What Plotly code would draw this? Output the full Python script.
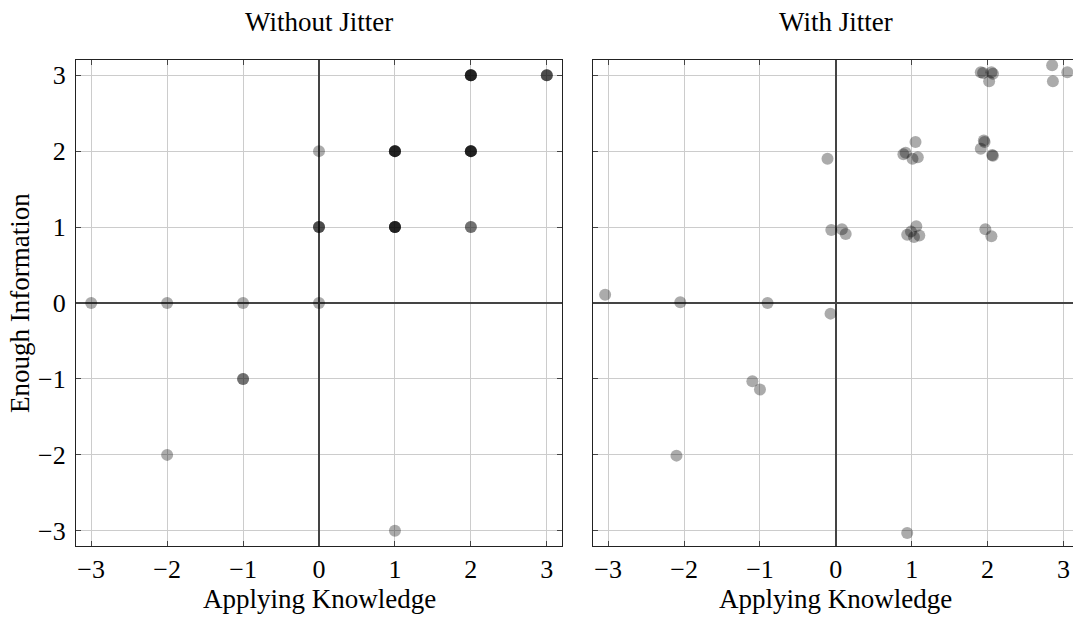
import plotly.graph_objects as go

# Without jitter (integer responses)
x_raw = [-3, -2, -1, 0, 0, -2, -1, -1, 1,
         0, 0, 0,
         1, 1, 1, 1, 1,
         1, 1, 1, 1, 1,
         2, 2, 2, 2, 2,
         2, 2, 2, 2, 2,
         3, 3, 3,
         2, 2]
y_raw = [0, 0, 0, 0, 2, -2, -1, -1, -3,
         1, 1, 1,
         1, 1, 1, 1, 1,
         2, 2, 2, 2, 2,
         2, 2, 2, 2, 2,
         3, 3, 3, 3, 3,
         3, 3, 3,
         1, 1]

# With jitter
x_jit = [-3.04, -2.05, -0.90, -0.07, -0.11, -2.10, -1.10, -1.00, 0.94,
         -0.06, 0.08, 0.13,
         0.94, 0.99, 1.06, 1.03, 1.10,
         0.89, 0.92, 1.05, 1.01, 1.08,
         1.95, 1.96, 1.91, 2.06, 2.07,
         1.91, 1.94, 2.07, 2.05, 2.02,
         2.85, 2.86, 3.05,
         1.97, 2.05]
y_jit = [0.11, 0.01, 0.00, -0.14, 1.90, -2.01, -1.03, -1.14, -3.03,
         0.96, 0.97, 0.91,
         0.90, 0.94, 1.01, 0.87, 0.89,
         1.96, 1.98, 2.12, 1.90, 1.92,
         2.14, 2.12, 2.03, 1.95, 1.94,
         3.04, 3.03, 3.02, 3.04, 2.92,
         3.13, 2.92, 3.04,
         0.97, 0.88]

tick_vals = [-3, -2, -1, 0, 1, 2, 3]
titles = ["Without Jitter", "With Jitter"]
x_title = "Applying Knowledge"
y_title = "Enough Information"

W, H = 1073, 628
FONT = "Liberation Serif"

fig = go.Figure()
marker = dict(color="black", opacity=0.33, size=12, line=dict(width=0))
fig.add_trace(go.Scatter(x=x_raw, y=y_raw, mode="markers", marker=marker,
                         xaxis="x", yaxis="y", showlegend=False))
fig.add_trace(go.Scatter(x=x_jit, y=y_jit, mode="markers", marker=marker,
                         xaxis="x2", yaxis="y2", showlegend=False))

def px_x(p):
    return p / W

def px_y(p):
    return 1 - p / H

ydom = [px_y(546), px_y(60)]
common = dict(
    tickvals=tick_vals, ticks="inside", ticklen=5, tickcolor="#444",
    showgrid=True, gridcolor="#cccccc", gridwidth=1,
    zeroline=True, zerolinecolor="#444444", zerolinewidth=1.8,
    showline=True, linecolor="#222222", linewidth=1.3,
    tickfont=dict(family=FONT, size=26, color="black"),
)

fig.update_layout(
    width=W, height=H,
    margin=dict(l=0, r=0, t=0, b=0),
    paper_bgcolor="white", plot_bgcolor="white",
    xaxis=dict(domain=[px_x(76), px_x(562)], range=[-3.2, 3.2], anchor="y",
               mirror="allticks", **common),
    yaxis=dict(domain=ydom, range=[-3.2, 3.2], anchor="x",
               mirror="allticks", ticklabelstandoff=4, **common),
    xaxis2=dict(domain=[px_x(593), 1.0], range=[-3.2, 3.125], anchor="y2",
                mirror="allticks", **common),
    yaxis2=dict(domain=ydom, range=[-3.2, 3.2], anchor="x2",
                mirror=False, showticklabels=False, **common),
)

ann = []
for cx, t in [(319, titles[0]), (835.7, titles[1])]:
    ann.append(dict(text=t, x=px_x(cx), y=px_y(22), xref="paper", yref="paper",
                    showarrow=False, font=dict(family=FONT, size=27, color="black"),
                    xanchor="center", yanchor="middle"))
    ann.append(dict(text=x_title, x=px_x(cx), y=px_y(599), xref="paper", yref="paper",
                    showarrow=False, font=dict(family=FONT, size=27, color="black"),
                    xanchor="center", yanchor="middle"))
ann.append(dict(text=y_title, x=px_x(20), y=px_y(303), xref="paper", yref="paper",
                showarrow=False, textangle=-90, font=dict(family=FONT, size=27, color="black"),
                xanchor="center", yanchor="middle"))
fig.update_layout(annotations=ann)

fig.write_html("out.html")
